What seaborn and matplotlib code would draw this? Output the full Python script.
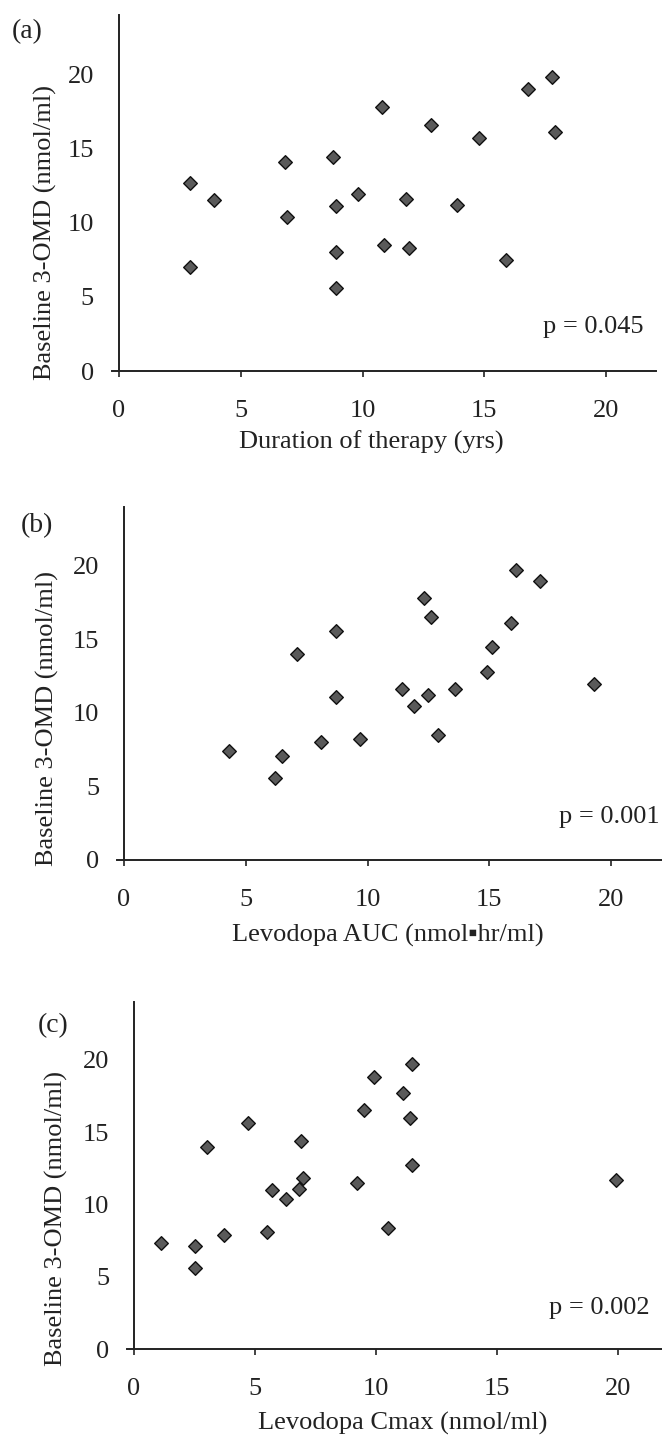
import matplotlib
matplotlib.use("Agg")
import matplotlib.pyplot as plt
import seaborn as sns

# =============================
# DATA
# =============================
# (a) duration of therapy vs baseline 3-OMD
dur_yrs = [2.9, 2.9, 3.9, 6.8, 6.9, 8.8, 8.9, 8.9, 8.9, 9.8, 10.8,
           10.9, 11.8, 11.9, 12.8, 13.9, 14.8, 15.9, 16.8, 17.8, 17.9]
dur_omd = [12.7, 7.0, 11.5, 14.1, 10.4, 14.4, 11.1, 8.0, 5.6, 11.9, 17.8,
           8.5, 11.6, 8.3, 16.6, 11.2, 15.7, 7.5, 19.0, 19.8, 16.1]

# (b) levodopa AUC vs baseline 3-OMD
auc = [4.3, 6.2, 6.5, 7.1, 8.1, 8.7, 8.7, 9.7, 11.4, 11.9, 12.3,
       12.6, 12.5, 12.9, 13.6, 14.9, 15.1, 15.9, 16.1, 17.1, 19.3]
auc_omd = [7.4, 5.6, 7.1, 14.0, 8.0, 15.6, 11.1, 8.2, 11.6, 10.5, 17.8,
           16.5, 11.2, 8.5, 11.6, 12.8, 14.5, 16.1, 19.7, 19.0, 12.0]

# (c) levodopa Cmax vs baseline 3-OMD
cmax = [1.1, 2.5, 2.5, 3.0, 3.7, 4.7, 5.5, 5.7, 6.3, 6.8, 6.9,
        7.0, 9.2, 9.5, 9.9, 10.5, 11.1, 11.5, 11.4, 11.5, 19.9]
cmax_omd = [7.3, 7.1, 5.6, 14.0, 7.9, 15.6, 8.1, 11.0, 10.4, 11.1, 14.4,
            11.8, 11.5, 16.5, 18.8, 8.4, 17.7, 19.7, 16.0, 12.7, 11.7]

panels = [
    ("(a)", dur_yrs, dur_omd, "Duration of therapy (yrs)", "p = 0.045"),
    ("(b)", auc, auc_omd, "Levodopa AUC (nmol\u25aahr/ml)", "p = 0.001"),
    ("(c)", cmax, cmax_omd, "Levodopa Cmax (nmol/ml)", "p = 0.002"),
]

# =============================
# STYLE
# =============================
sns.set_style("ticks")
plt.rcParams["font.family"] = ["Liberation Serif", "DejaVu Serif"]
plt.rcParams["font.size"] = 19

W, H = 662, 1437
fig = plt.figure(figsize=(W / 100, H / 100), dpi=100)

# pixel geometry of each panel: y-axis x, x-axis y, top y, px per unit x, xmax
geom = [
    dict(x0=119, y0=371, top=15, ux=24.35, xmax=22.05,
         tag=(27, 32), ylab=(57, 233), xlab=(371, 431), p=(17.4, 2.96)),
    dict(x0=124, y0=860, top=507, ux=24.35, xmax=22.2,
         tag=(37, 526), ylab=(59, 718), xlab=(388, 924), p=(17.86, 2.9)),
    dict(x0=134, y0=1349, top=1002, ux=24.2, xmax=22.0,
         tag=(53, 1026), ylab=(68, 1218), xlab=(403, 1412), p=(17.15, 2.84)),
]

for (tag, xs, ys, xlabel, ptxt), g in zip(panels, geom):
    xmin = -0.3
    left = g["x0"] + xmin * g["ux"]
    right = g["x0"] + g["xmax"] * g["ux"]
    ax = fig.add_axes([left / W, 1 - g["y0"] / H,
                       (right - left) / W, (g["y0"] - g["top"]) / H])
    ax.patch.set_alpha(0)

    sns.scatterplot(x=xs, y=ys, ax=ax, marker="D", s=48,
                    color="#5a5a5a", edgecolor="#111111", linewidth=1.0,
                    zorder=3, clip_on=False)

    ax.set_xlim(xmin, g["xmax"])
    ax.set_ylim(0, 24)
    ax.set_xticks([0, 5, 10, 15, 20])
    ax.set_yticks([0, 5, 10, 15, 20])
    ax.spines["left"].set_position(("data", 0))
    for side in ["top", "right"]:
        ax.spines[side].set_visible(False)
    for side in ["left", "bottom"]:
        ax.spines[side].set_linewidth(1.4)
        ax.spines[side].set_color("#222222")
    ax.tick_params(axis="x", direction="out", length=4, width=1.2,
                   pad=17, labelsize=19, colors="#222222")
    ax.tick_params(axis="y", length=0, pad=18, labelsize=19,
                   colors="#222222")

    ax.set_xlabel(xlabel, fontsize=19, color="#222222")
    ax.set_ylabel("Baseline 3-OMD (nmol/ml)", fontsize=19, color="#222222")
    # place axis labels where the original has them
    ax.xaxis.set_label_coords(g["xlab"][0] / W, 1 - g["xlab"][1] / H,
                              transform=fig.transFigure)
    ax.yaxis.set_label_coords(g["ylab"][0] / W, 1 - g["ylab"][1] / H,
                              transform=fig.transFigure)

    ax.text(g["p"][0], g["p"][1], ptxt, ha="left", va="center",
            fontsize=19, color="#222222")
    fig.text(g["tag"][0] / W, 1 - g["tag"][1] / H, tag, ha="center",
             va="center", fontsize=20, color="#222222")

fig.savefig("out.png", dpi=100)
